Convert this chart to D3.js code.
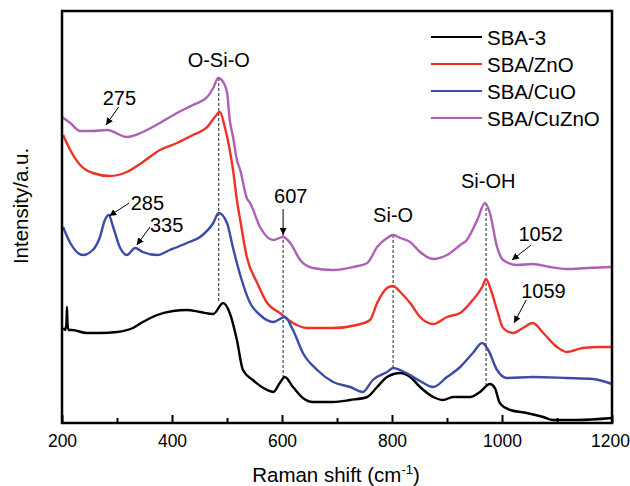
<!DOCTYPE html>
<html>
<head>
<meta charset="utf-8">
<script src="https://cdn.jsdelivr.net/npm/d3@7"></script>
<style>
  html, body { margin: 0; padding: 0; background: #fff; }
  svg text { font-family: "Liberation Sans", Arial, Helvetica, sans-serif; fill: #000; }
</style>
</head>
<body>
<svg id="chart" width="630" height="486"></svg>
<script>
// ---- data (Raman shift in cm^-1, intensity in a.u.) ----
const seriesNames = ["SBA-3", "SBA/ZnO", "SBA/CuO", "SBA/CuZnO"];
const seriesColors = ["#000000", "#ee3226", "#3a4ba8", "#b05fb6"];

const sba3X = [202,206,208,209,210,212,218,245,269,300,329,347,373,402,427,451,475,493,505,518,529,547,573,584,596,605,620,638,656,693,724,755,773,791,815,833,851,875,893,911,942,960,978,987,996,1015,1045,1075,1093,1136,1200];
const sba3Y = [95,93,100,116,100,93,93,90,90,91,95,101,108,112,113,111,109,120,110,83,53,43,33,31,40,46,36,25,21,21,23,26,36,46,50,46,36,26,23,26,26,31,39,35,20,13,10,6,3,3,5];

const znoX = [202,215,233,256,287,318,347,378,409,438,464,478,487,496,505,511,518,524,536,555,573,596,620,645,693,736,760,773,791,802,815,833,851,875,900,924,947,964,971,978,991,1002,1020,1038,1056,1075,1100,1118,1147,1178,1200];
const znoY = [288,273,258,250,247,251,261,273,280,288,296,306,311,296,273,253,223,203,166,140,120,110,100,95,95,98,103,120,135,137,131,120,106,99,106,110,123,136,144,136,113,95,90,95,100,90,76,71,75,76,76];

const cuoX = [202,215,238,256,269,278,285,293,305,318,333,347,373,396,427,451,475,485,500,511,524,542,560,584,605,620,638,664,693,724,747,765,791,802,815,833,851,875,900,924,947,964,975,991,1009,1056,1118,1165,1200];
const cuoY = [196,180,168,173,186,203,208,196,176,168,175,171,168,173,180,186,200,210,200,175,148,120,108,101,106,93,70,53,41,36,31,43,51,55,53,48,42,36,46,56,70,80,73,53,45,46,45,44,39];

const cuznoX = [200,215,233,256,282,318,347,378,409,438,464,475,484,493,500,505,511,518,524,536,542,560,584,602,615,633,656,693,729,755,773,791,802,815,833,851,875,900,924,936,955,969,978,991,1002,1027,1056,1087,1118,1155,1200];
const cuznoY = [306,300,292,292,293,286,291,300,310,318,326,335,345,341,331,303,286,263,253,225,220,196,183,186,180,163,155,153,156,160,176,185,188,185,181,171,164,168,178,183,203,220,210,176,163,158,159,156,154,155,156];

const xTicksMajor = [200, 400, 600, 800, 1000, 1200];
const xTicksMinor = [300, 500, 700, 900, 1100];

// peak markers: dashed guide lines [x, yTop, yBottom]
const guideX = [485, 602, 802, 971];
const guideTop = [345, 188, 188, 220];
const guideBottom = [120, 46, 56, 38];

const bandLabels = ["O-Si-O", "607", "Si-O", "Si-OH"];
const bandLabelX = [485, 616, 802, 975];
const bandLabelY = [356, 220, 201, 235];

// arrow annotations: label, label position, arrow start, arrow end (data units)
const arrowLabels = ["275", "285", "335", "1052", "1059"];
const arrowLabelX = [274, 325, 360, 1030, 1035];
const arrowLabelY = [318, 213, 191, 182, 125];
const arrowFromX = [303, 322, 360, 1053, 1044];
const arrowFromY = [316, 220, 196, 178, 123];
const arrowToX = [280, 286, 336, 1018, 1022];
const arrowToY = [298, 207, 178, 163, 100];

// ---- chart ----
const svg = d3.select("#chart");
const mLeft = 62, mRight = 612, mTop = 11, mBottom = 423;

const x = d3.scaleLinear().domain([200, 1200]).range([mLeft, mRight]);
const y = d3.scaleLinear().domain([0, 412]).range([mBottom, mTop]);

const defs = svg.append("defs");
defs.append("marker")
  .attr("id", "ah")
  .attr("viewBox", "0 0 10 10")
  .attr("refX", 10).attr("refY", 5)
  .attr("markerWidth", 7).attr("markerHeight", 7)
  .attr("markerUnits", "userSpaceOnUse")
  .attr("orient", "auto")
  .append("path").attr("d", "M0,0 L10,5 L0,10 Z").attr("fill", "#000");

// dashed guide lines
guideX.forEach((gx, i) => {
  svg.append("line")
    .attr("x1", x(gx)).attr("x2", x(gx))
    .attr("y1", y(guideTop[i])).attr("y2", y(guideBottom[i]))
    .attr("stroke", "#222").attr("stroke-width", 1)
    .attr("stroke-dasharray", "3,2");
});

// series
const allX = [sba3X, znoX, cuoX, cuznoX];
const allY = [sba3Y, znoY, cuoY, cuznoY];
const line = d3.line().x(d => x(d[0])).y(d => y(d[1])).curve(d3.curveMonotoneX);
allX.forEach((xs, i) => {
  const pts = xs.map((v, j) => [v, allY[i][j]]);
  svg.append("path")
    .datum(pts)
    .attr("d", line)
    .attr("fill", "none")
    .attr("stroke", seriesColors[i])
    .attr("stroke-width", 2.4)
    .attr("stroke-linejoin", "round");
});

// axes ticks (inside)
const axMajor = d3.axisBottom(x).tickValues(xTicksMajor).tickSize(-8).tickPadding(12).tickFormat(d3.format("d"));
const gMaj = svg.append("g").attr("transform", `translate(0,${mBottom})`).call(axMajor);
gMaj.select(".domain").remove();
gMaj.selectAll("line").attr("stroke", "#000").attr("stroke-width", 2);
gMaj.selectAll("text").attr("font-size", 17.5).attr("font-family", "Liberation Sans, Arial, sans-serif").attr("fill", "#000")
  .attr("dx", d => d === 1200 ? -2 : 0);

const axMinor = d3.axisBottom(x).tickValues(xTicksMinor).tickSize(-5).tickFormat("");
const gMin = svg.append("g").attr("transform", `translate(0,${mBottom})`).call(axMinor);
gMin.select(".domain").remove();
gMin.selectAll("line").attr("stroke", "#000").attr("stroke-width", 2);

// frame
svg.append("rect")
  .attr("x", mLeft).attr("y", mTop)
  .attr("width", mRight - mLeft).attr("height", mBottom - mTop)
  .attr("fill", "none").attr("stroke", "#000").attr("stroke-width", 2.5);

// band labels
bandLabels.forEach((t, i) => {
  svg.append("text")
    .attr("x", x(bandLabelX[i])).attr("y", y(bandLabelY[i]))
    .attr("text-anchor", "middle").attr("font-size", 20)
    .text(t);
});

// 607 arrow
svg.append("line")
  .attr("x1", x(602)).attr("x2", x(602))
  .attr("y1", y(214)).attr("y2", y(188))
  .attr("stroke", "#000").attr("stroke-width", 1)
  .attr("marker-end", "url(#ah)");

// other arrows
arrowLabels.forEach((t, i) => {
  svg.append("text")
    .attr("x", x(arrowLabelX[i])).attr("y", y(arrowLabelY[i]))
    .attr("font-size", 20)
    .text(t);
  svg.append("line")
    .attr("x1", x(arrowFromX[i])).attr("y1", y(arrowFromY[i]))
    .attr("x2", x(arrowToX[i])).attr("y2", y(arrowToY[i]))
    .attr("stroke", "#000").attr("stroke-width", 1)
    .attr("marker-end", "url(#ah)");
});

// legend
const legend = svg.append("g");
seriesNames.forEach((name, i) => {
  const ly = 37 + i * 27;
  legend.append("line")
    .attr("x1", 431).attr("x2", 482).attr("y1", ly).attr("y2", ly)
    .attr("stroke", seriesColors[i]).attr("stroke-width", 2);
  legend.append("text")
    .attr("x", 487).attr("y", ly + 7.5)
    .attr("font-size", 20.5)
    .text(name);
});

// axis titles
const xt = svg.append("text")
  .attr("x", 336).attr("y", 482)
  .attr("text-anchor", "middle").attr("font-size", 20.5);
xt.append("tspan").text("Raman shift (cm");
xt.append("tspan").attr("font-size", 13).attr("dy", -8).text("-1");
xt.append("tspan").attr("dy", 8).text(")");

svg.append("text")
  .attr("transform", "translate(28,206) rotate(-90)")
  .attr("text-anchor", "middle").attr("font-size", 20.5)
  .text("Intensity/a.u.");
</script>
</body>
</html>
